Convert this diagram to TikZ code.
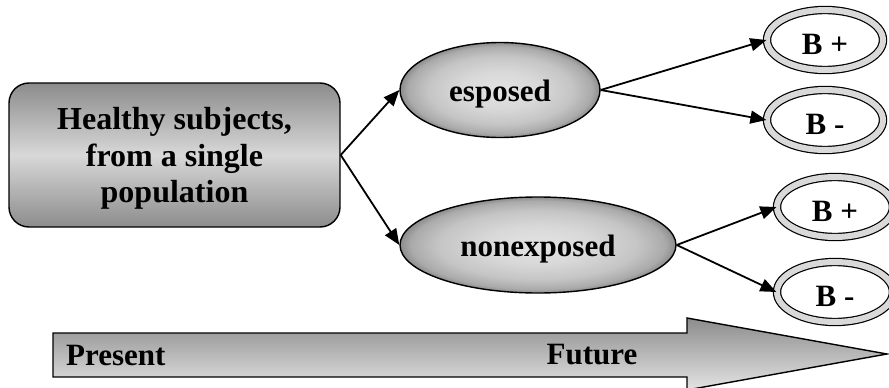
\documentclass[tikz,border=0pt]{standalone}
\usepackage{fontspec}
\setmainfont{Liberation Serif}
\usetikzlibrary{shapes.geometric,arrows.meta}
\definecolor{dk}{HTML}{8C8C8C}
\definecolor{lt}{HTML}{D8D8D8}
\definecolor{ring}{HTML}{D9D9D9}
\pgfdeclareradialshading{ovalshade}{\pgfpoint{0bp}{0bp}}{%
  color(0bp)=(lt!70!white); color(10bp)=(lt); color(18bp)=(lt!75!dk);
  color(23bp)=(lt!40!dk); color(25bp)=(dk); color(50bp)=(dk)}
\newcommand\lowtxt[1]{\raisebox{-4pt}[\height][\depth]{#1}}
\tikzset{
  txt/.style={font=\fontsize{31}{36.5}\selectfont\bfseries},
  boxnode/.style={font=\fontsize{32}{36.5}\selectfont\bfseries, draw=black,
    line width=1.4pt, rounded corners=20pt,
    top color=dk, bottom color=dk, middle color=lt, align=center,
    minimum width=331pt, minimum height=144pt},
  ovalnode/.style={txt, ellipse, draw=black, line width=1.4pt, inner sep=0pt,
    shading=ovalshade},
  outcome/.style={txt, ellipse, draw=black, line width=1.2pt, double=ring,
    double distance=6pt, fill=white, inner sep=0pt,
    minimum width=116pt, minimum height=60pt},
  link/.style={line width=1.8pt, -{Triangle[length=16pt,width=13pt]}},
  timearrow/.style={draw=black, line width=1.4pt, top color=dk, bottom color=lt!70!white}
}
\begin{document}
\begin{tikzpicture}[x=1pt,y=-1pt]
\useasboundingbox (0,0) rectangle (889,388);
% time arrow
\path[timearrow] (53,333) -- (687,333) -- (687,318) -- (887,354) -- (687,390)
  -- (687,377) -- (53,377) -- cycle;
\node[txt, anchor=west, inner sep=0pt] (present) at (66,355) {Present};
\node[txt, inner sep=0pt] (future) at (592,355) {Future};
% nodes
\node[boxnode] (box) at (174.5,155) {\lowtxt{\begin{tabular}{@{}c@{}}Healthy subjects,\\from a single\\population\end{tabular}}};
\node[ovalnode, minimum width=200pt, minimum height=95pt] (esp) at (500,90) {\lowtxt{esposed}};
\node[ovalnode, minimum width=276pt, minimum height=96pt] (non) at (538,245) {\lowtxt{nonexposed}};
\node[outcome] (bp1) at (825,40) {\lowtxt{B +}};
\node[outcome] (bm1) at (825,120) {\lowtxt{B -}};
\node[outcome] (bp2) at (835,207) {\lowtxt{B +}};
\node[outcome] (bm2) at (835,292) {\lowtxt{B -}};
% connectors
\draw[link] (box.east) -- (esp.west);
\draw[link] (box.east) -- (non.west);
\draw[link] (esp.east) -- (bp1.west);
\draw[link] (esp.east) -- (bm1.west);
\draw[link] (non.east) -- (bp2.west);
\draw[link] (non.east) -- (bm2.west);
\end{tikzpicture}
\end{document}
